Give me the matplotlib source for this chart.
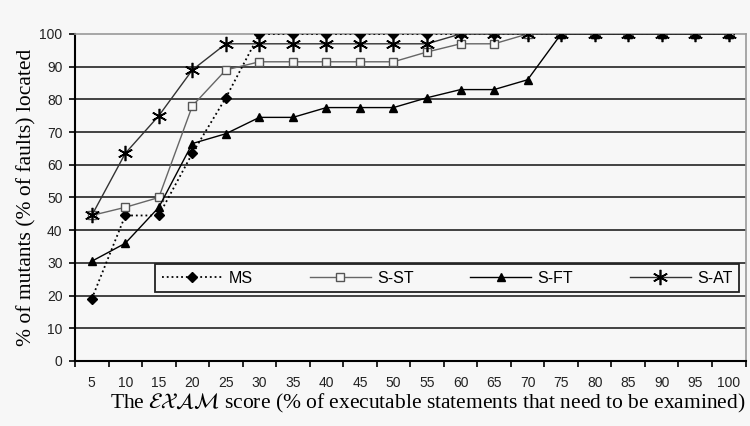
import matplotlib
matplotlib.use('Agg')
import matplotlib.pyplot as plt
import numpy as np

# Data
exam = [5, 10, 15, 20, 25, 30, 35, 40, 45, 50, 55, 60, 65, 70, 75, 80, 85, 90, 95, 100]
ms   = [19, 44.5, 44.5, 63.5, 80.5, 100, 100, 100, 100, 100, 100, 100, 100, 100, 100, 100, 100, 100, 100, 100]
s_st = [44.5, 47, 50, 78, 89, 91.5, 91.5, 91.5, 91.5, 91.5, 94.5, 97, 97, 100, 100, 100, 100, 100, 100, 100]
s_ft = [30.5, 36, 47, 66.5, 69.5, 74.5, 74.5, 77.5, 77.5, 77.5, 80.5, 83, 83, 86, 100, 100, 100, 100, 100, 100]
s_at = [44.5, 63.5, 75, 89, 97, 97, 97, 97, 97, 97, 97, 100, 100, 100, 100, 100, 100, 100, 100, 100]
yticks = [0, 10, 20, 30, 40, 50, 60, 70, 80, 90, 100]

plt.rcParams['mathtext.fontset'] = 'stix'
bg = '#f7f7f7'

fig = plt.figure(figsize=(7.5, 4.26), dpi=100, facecolor=bg)
ax = fig.add_axes([0.1, 0.1526, 0.894, 0.7676])
ax.set_facecolor(bg)

# horizontal grid lines (10..90)
for v in yticks[1:-1]:
    ax.axhline(v, color='#333333', lw=1.3, zorder=1)

star = (6, 2, 0)
ax.plot(exam, ms, color='black', ls=':', lw=1.3, marker='D', ms=5.5, mfc='black', mec='black', label='MS', zorder=3)
ax.plot(exam, s_st, color='#666666', lw=1.0, marker='s', ms=6, mfc=bg, mec='#555555', mew=1.0, label='S-ST', zorder=3)
ax.plot(exam, s_ft, color='black', lw=1.0, marker='^', ms=6, mfc='black', mec='black', label='S-FT', zorder=3)
ax.plot(exam, s_at, color='#333333', lw=1.0, marker=star, ms=11, mec='black', mew=1.2, label='S-AT', zorder=3)

ax.set_xlim(2.5, 102.5)
ax.set_ylim(0, 100)
ax.set_xticks(exam)
ax.set_xticks(np.arange(2.5, 103, 5), minor=True)
ax.tick_params(axis='x', which='major', length=0, pad=11, labelsize=10, labelcolor='#222222')
ax.tick_params(axis='x', which='minor', length=4, width=1.2, direction='out')
ax.set_yticks(yticks)
ax.tick_params(axis='y', length=4, width=1.2, direction='out', labelsize=10, labelcolor='#222222', pad=5)
for lab in ax.get_xticklabels() + ax.get_yticklabels():
    lab.set_family('Liberation Sans')

ax.spines['left'].set_linewidth(1.5)
ax.spines['bottom'].set_linewidth(1.5)
ax.spines['top'].set_color('#999999')
ax.spines['right'].set_color('#999999')
ax.spines['top'].set_linewidth(1.2)
ax.spines['right'].set_linewidth(1.2)

leg = ax.legend(loc='lower left', bbox_to_anchor=(0.12, 0.211, 0.87, 0.095), mode='expand',
                ncol=4, borderaxespad=0, frameon=True, fancybox=False, handlelength=3.8,
                prop={'family': 'Liberation Sans', 'size': 11.5}, handletextpad=0.4)
leg.get_frame().set_facecolor(bg)
leg.get_frame().set_edgecolor('#222222')
leg.get_frame().set_linewidth(1.3)
leg.get_frame().set_alpha(1)
leg.set_zorder(5)

ax.set_xlabel(r'The $\mathcal{EXAM}$ score (% of executable statements that need to be examined)',
              family='Liberation Serif', fontsize=15.5, labelpad=1, loc='right')
ax.set_ylabel('% of mutants (% of faults) located', family='Liberation Serif', fontsize=15.5, labelpad=2)

fig.savefig('out.png', dpi=100, facecolor=bg)
